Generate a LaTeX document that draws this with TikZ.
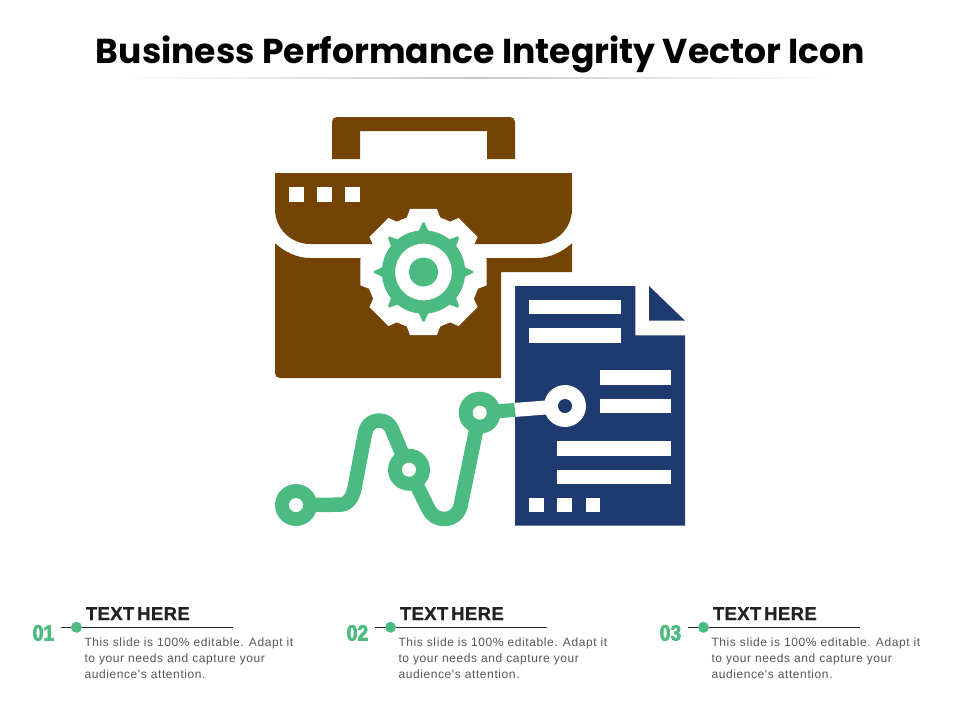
\documentclass[tikz,border=0pt]{standalone}
\usepackage{fontspec}
\setmainfont{Liberation Sans}
\newfontfamily\titlefont{Poppins}
\newfontfamily\numfont[FakeStretch=0.88,FakeBold=3]{Liberation Sans Bold}
\newfontfamily\bodyfont[LetterSpace=5]{Liberation Sans}
\newfontfamily\headfont[FakeBold=0.6,LetterSpace=1.5]{Liberation Sans Bold}
\definecolor{brownc}{HTML}{734403}
\definecolor{greenc}{HTML}{4CBB82}
\definecolor{navyc}{HTML}{1F3A6E}
\definecolor{inkc}{HTML}{222222}
\definecolor{bodyc}{HTML}{555555}
\definecolor{linec}{HTML}{1E2A35}
\tikzset{
  brownshape/.style={fill=brownc},
  navyshape/.style={fill=navyc},
  bar/.style={fill=white},
  trail/.style={draw=greenc,line width=14.5pt,line join=round},
  headtext/.style={anchor=base west,inner sep=0pt,text=inkc,font=\headfont\fontsize{18.6}{20}\selectfont},
  bodytext/.style={anchor=north west,inner sep=0pt,text=bodyc,align=left,font=\bodyfont\fontsize{12}{16}\selectfont},
  numtext/.style={anchor=base west,inner sep=0pt,text=greenc,font=\numfont\fontsize{22}{24}\selectfont},
  legenddot/.style={circle,fill=greenc,inner sep=0pt,minimum size=11pt},
  legendline/.style={draw=linec,line width=0.9pt},
}
\begin{document}
\begin{tikzpicture}[x=1pt,y=-1pt]
\useasboundingbox (0,0) rectangle (960,720);
\fill[white] (0,0) rectangle (960,720);
% title
\node[anchor=base,inner sep=0pt,text=black,font=\titlefont\bfseries\fontsize{34.6}{36}\selectfont] (title) at (480.5,63) {Business Performance Integrity Vector Icon};
\fill[left color=white,right color=white,middle color=black!22] (120,77.5) rectangle (835,78.5);
% briefcase handle
\fill[brownshape] (332,159) -- (332,122) .. controls (332,119) and (334,117) .. (337,117) -- (510,117) .. controls (513,117) and (515,119) .. (515,122) -- (515,159) -- (487,159) -- (487,131) -- (360,131) -- (360,159) -- cycle;
% briefcase flap
\fill[brownshape] (275,173) -- (572,173) -- (572,209) .. controls (572,228.3) and (556.3,244) .. (537,244) -- (310,244) .. controls (290.7,244) and (275,228.3) .. (275,209) -- cycle;
% briefcase body
\fill[brownshape] (275,243.3) .. controls (285,252) and (297,258) .. (310,258) -- (537,258) .. controls (550,258) and (562,252) .. (572,243.3) -- (572,272) -- (501,272) -- (501,378) -- (280,378) .. controls (277,378) and (275,376) .. (275,373) -- cycle;
% flap squares
\foreach \sx in {289,317,345} \fill[bar] (\sx,187) rectangle ++(14.5,14.5);
% gear
\begin{scope}[shift={(423.5,272)}]
  \fill[white] (-12:64.5) \foreach \a in {0,45,...,315} { -- (\a-12:64.5) -- (\a+12:64.5) -- (\a+17:57) -- (\a+28:57) } -- cycle;
  \fill[greenc] (0,0) circle (41.7);
  \foreach \a in {0,45,...,315} \fill[greenc] (\a-7:41) -- (\a-1.2:49.3) -- (\a+1.2:49.3) -- (\a+7:41) -- cycle;
  \fill[white] (0,0) circle (28.3);
  \fill[greenc] (0,0) circle (14.5);
\end{scope}
% document
\fill[navyshape] (515,286) -- (635.3,286) -- (635.3,335.3) -- (685,335.3) -- (685,525.7) -- (515,525.7) -- cycle;
\fill[navyshape] (649,286) -- (685,320.7) -- (649,320.7) -- cycle;
\fill[bar] (529,300) rectangle (621.3,314.3);
\fill[bar] (529,328.3) rectangle (621.3,342.7);
\fill[bar] (600,370.3) rectangle (671,385);
\fill[bar] (600,399) rectangle (671,413.3);
\fill[bar] (557.3,441.3) rectangle (671,455.7);
\fill[bar] (557.3,469.7) rectangle (671,484);
\fill[bar] (529,498) rectangle (543.5,512.3);
\fill[bar] (557.3,498) rectangle (571.8,512.3);
\fill[bar] (585.7,498) rectangle (600,512.3);
% chart line
\coordinate (p1) at (296,505);
\coordinate (p2) at (409,469.7);
\coordinate (p3) at (479.7,412.7);
\coordinate (p4) at (565,406);
\coordinate (edge) at (515,409.9);
\draw[trail] (p1) -- (340,504.7) .. controls (347.5,504.7) and (352.5,498) .. (354.5,488.3) -- (365.4,431.1) .. controls (367.2,424.7) and (372.4,420.5) .. (379,420.5) .. controls (384.5,420.5) and (389,423.5) .. (391.3,427.9) -- (p2) -- (428.7,509.5) .. controls (431.5,515) and (437,519) .. (444,519) .. controls (452.5,519) and (459,513.5) .. (460.7,505.2) -- (p3);
\draw[draw=greenc,line width=14pt] (p3) -- (edge);
\draw[draw=white,line width=14pt] (edge) -- (p4);
\fill[greenc] (p1) circle (21);
\fill[white] (p1) circle (7);
\fill[greenc] (p2) circle (21);
\fill[white] (p2) circle (7);
\fill[greenc] (p3) circle (21);
\fill[white] (p3) circle (7);
\fill[white] (p4) circle (21);
\fill[navyc] (p4) circle (7);
% legend
\foreach \i/\n/\ox in {1/01/0,2/02/314,3/03/627}{
  \begin{scope}[xshift=\ox pt]
    \node[numtext] (num\i) at (32.5,640.5) {\n};
    \coordinate (ls\i) at (61,627.3);
    \coordinate (le\i) at (232.5,627.3);
    \draw[legendline] (ls\i) -- (le\i);
    \node[legenddot] (dot\i) at (76.5,627.3) {};
    \node[headtext] (head\i) at (85.7,620) {TEXT\kern-2.5pt{} HERE};
    \node[bodytext] (body\i) at (84.3,637.5) {This slide is 100\% editable. Adapt it\\to your needs and capture your\\audience's attention.};
  \end{scope}
}
\end{tikzpicture}
\end{document}
